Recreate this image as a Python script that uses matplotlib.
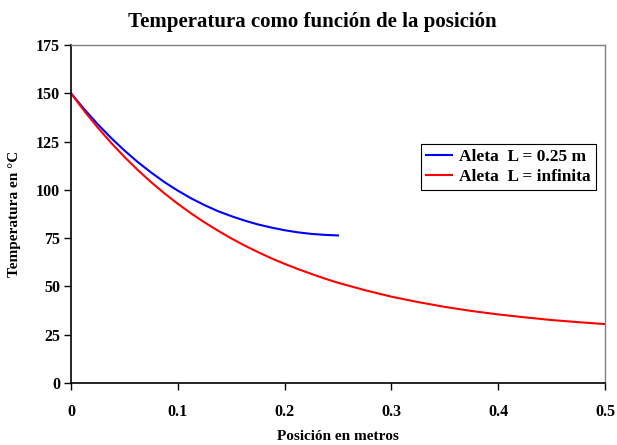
import matplotlib
matplotlib.use("Agg")
import matplotlib.pyplot as plt
from matplotlib.ticker import FixedLocator

x_blue = [0, 0.0125, 0.025, 0.0375, 0.05, 0.0625, 0.075, 0.0875, 0.1, 0.1125,
          0.125, 0.1375, 0.15, 0.1625, 0.175, 0.1875, 0.2, 0.2125, 0.225,
          0.2375, 0.25]
t_blue = [150, 141.7, 134, 126.9, 120.4, 114.4, 109, 104.0, 99.6, 95.6,
          92.1, 89.0, 86.4, 84.1, 82.1, 80.5, 79.1, 78.0, 77.2, 76.7, 76.4]

x_red = [0, 0.0125, 0.025, 0.0375, 0.05, 0.0625, 0.075, 0.0875, 0.1, 0.1125,
         0.125, 0.1375, 0.15, 0.1625, 0.175, 0.1875, 0.2, 0.2125, 0.225,
         0.2375, 0.25, 0.275, 0.3, 0.325, 0.35, 0.375, 0.4, 0.425, 0.45,
         0.475, 0.5]
t_red = [150, 140.8, 132.3, 124.4, 117.1, 110.3, 104.0, 98.2, 92.8, 87.8,
         83.2, 78.9, 74.9, 71.2, 67.8, 64.6, 61.7, 59.0, 56.5, 54.1,
         51.9, 48.1, 44.7, 41.9, 39.4, 37.3, 35.5, 34.0, 32.6, 31.5, 30.5]

label_blue = "Aleta  L = 0.25 m"
label_red = "Aleta  L = infinita"
title = "Temperatura como función de la posición"
xlabel = "Posición en metros"
ylabel = "Temperatura en °C"
xticks = [0, 0.1, 0.2, 0.3, 0.4, 0.5]
xticklabels = ["0", "0.1", "0.2", "0.3", "0.4", "0.5"]
yticks = [0, 25, 50, 75, 100, 125, 150, 175]

plt.rcParams['font.family'] = ['Liberation Serif', 'DejaVu Serif']
plt.rcParams['font.weight'] = 'bold'

fig = plt.figure(figsize=(6.17, 4.45), dpi=100)
ax = fig.add_axes([71/617, 1-383/445, 534/617, 338/445])

ax.plot(x_blue, t_blue, color='#0000ff', lw=1.5, label=label_blue)
ax.plot(x_red, t_red, color='#ff0000', lw=1.5, label=label_red)

ax.set_xlim(0, 0.5)
ax.set_ylim(0, 175)
ax.xaxis.set_major_locator(FixedLocator(xticks))
ax.set_xticklabels(xticklabels, fontsize=11.5, fontweight='bold')
ax.yaxis.set_major_locator(FixedLocator(yticks))
ax.set_yticklabels([str(v) for v in yticks], fontsize=11.5, fontweight='bold')
ax.tick_params(axis='both', direction='out', length=5, width=1, colors='black')
ax.tick_params(axis='x', pad=10)
ax.tick_params(axis='y', pad=3)

for s in ['left', 'bottom']:
    ax.spines[s].set_color('black')
    ax.spines[s].set_linewidth(1.2)
for s in ['top', 'right']:
    ax.spines[s].set_color('#808080')
    ax.spines[s].set_linewidth(1.0)

fig.text(312/617, 1 - 22/445, title, ha='center', va='center',
         fontsize=15, fontweight='bold')
fig.text(338/617, 1 - 436/445, xlabel, ha='center', va='center',
         fontsize=11, fontweight='bold')
fig.text(15/617, 1 - 214/445, ylabel, ha='center', va='center', rotation=90,
         fontsize=11, fontweight='bold')

leg = ax.legend(loc='upper right', bbox_to_anchor=(0.983, 0.707), fontsize=12.5,
                frameon=True, fancybox=False, edgecolor='black', framealpha=1,
                handlelength=1.5, handletextpad=0.4, borderpad=0.3,
                labelspacing=0.2, borderaxespad=0)
leg.get_frame().set_linewidth(0.8)
for t in leg.get_texts():
    t.set_fontweight('bold')

fig.savefig('out.png', dpi=100)
